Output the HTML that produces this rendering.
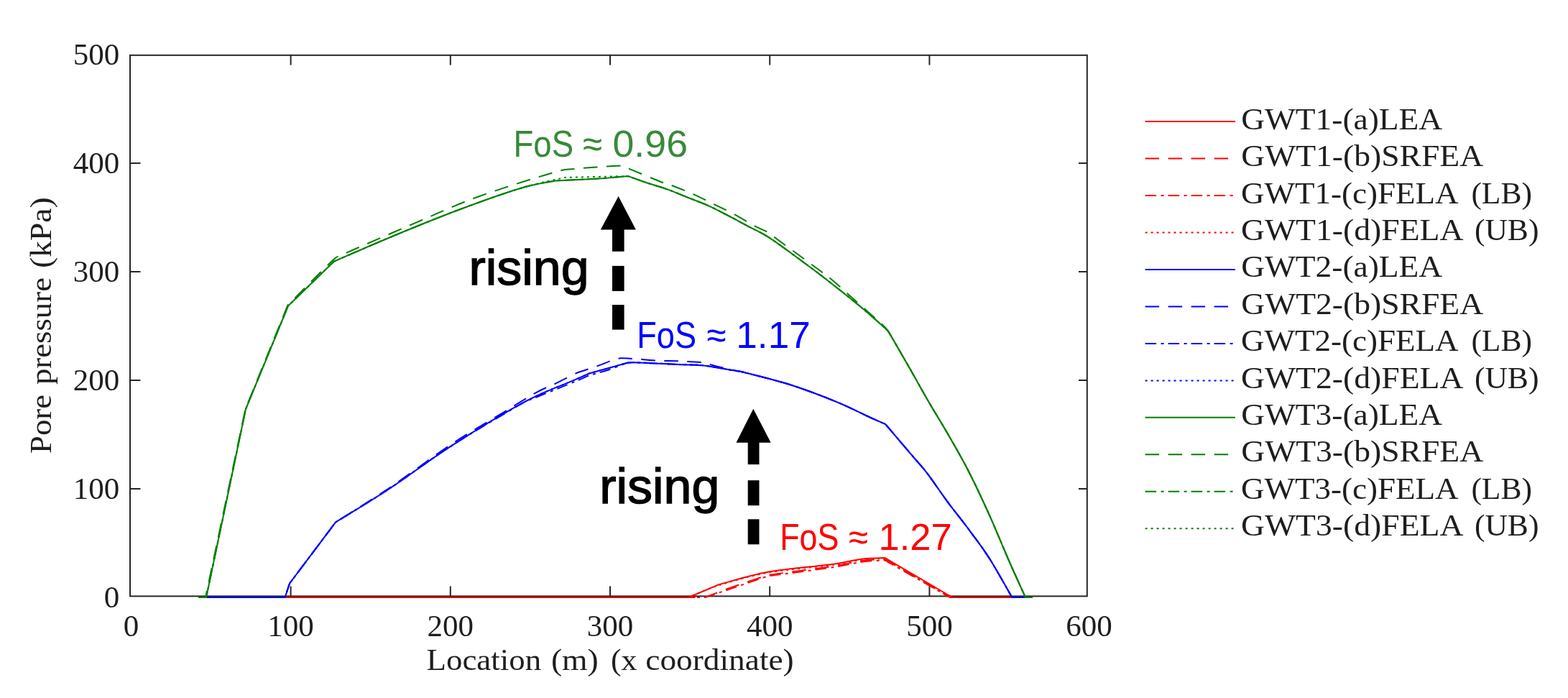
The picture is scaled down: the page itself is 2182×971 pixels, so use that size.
<!DOCTYPE html>
<html><head><meta charset="utf-8"><style>
html,body{margin:0;padding:0;background:#fff;overflow:hidden;}
svg{display:block;}
.serif{font-family:"Liberation Serif","DejaVu Serif",serif;font-size:43px;fill:#1e1e1e;}
.sans{font-family:"Liberation Sans","DejaVu Sans",sans-serif;}
</style></head><body>
<svg width="2182" height="971" viewBox="0 0 2182 971">
<rect width="2182" height="971" fill="#fff"/>
<g stroke="#262626" stroke-width="2" fill="none">
<rect x="181" y="76.8" width="1331.8" height="752.6"/>
<line x1="404.6" y1="829.4" x2="404.6" y2="815.5"/><line x1="404.6" y1="76.8" x2="404.6" y2="90.5"/><line x1="626.8" y1="829.4" x2="626.8" y2="815.5"/><line x1="626.8" y1="76.8" x2="626.8" y2="90.5"/><line x1="849.0" y1="829.4" x2="849.0" y2="815.5"/><line x1="849.0" y1="76.8" x2="849.0" y2="90.5"/><line x1="1071.2" y1="829.4" x2="1071.2" y2="815.5"/><line x1="1071.2" y1="76.8" x2="1071.2" y2="90.5"/><line x1="1293.4" y1="829.4" x2="1293.4" y2="815.5"/><line x1="1293.4" y1="76.8" x2="1293.4" y2="90.5"/><line x1="181" y1="680.0" x2="195.5" y2="680.0"/><line x1="1512.8" y1="680.0" x2="1501" y2="680.0"/><line x1="181" y1="529.0" x2="195.5" y2="529.0"/><line x1="1512.8" y1="529.0" x2="1501" y2="529.0"/><line x1="181" y1="378.0" x2="195.5" y2="378.0"/><line x1="1512.8" y1="378.0" x2="1501" y2="378.0"/><line x1="181" y1="227.0" x2="195.5" y2="227.0"/><line x1="1512.8" y1="227.0" x2="1501" y2="227.0"/>
</g>
<g><path d="M276.0,831.0 L958.3,831.0 L1000.5,813.2 C1011.8,810.3 1041.7,800.5 1068.3,795.7 C1094.9,791.0 1138.0,787.8 1160.0,784.7 C1182.0,781.7 1188.4,778.8 1200.3,777.4 C1212.2,776.0 1226.3,776.3 1231.5,776.1 L1325.0,831.0 L1437.0,831.0" fill="none" stroke="#ff0000" stroke-width="2.0" stroke-linejoin="round" /><path d="M276.0,831.0 L981.0,831.0 C986.4,829.0 998.8,823.9 1013.3,818.7 C1027.8,813.5 1059.1,803.1 1068.3,800.0 C1083.6,797.9 1138.0,790.8 1160.0,787.5 C1182.0,784.2 1188.4,781.6 1200.3,780.0 C1212.2,778.4 1226.3,778.3 1231.5,778.0 L1322.0,831.0 L1437.0,831.0" fill="none" stroke="#ff0000" stroke-width="2.0" stroke-linejoin="round" stroke-dasharray="19.5 12.5"/><path d="M276.0,831.0 L981.0,831.0 C986.4,829.2 998.8,825.1 1013.3,820.2 C1027.8,815.3 1059.1,804.6 1068.3,801.5 C1083.6,799.4 1138.0,792.3 1160.0,789.0 C1182.0,785.7 1188.4,783.1 1200.3,781.5 C1212.2,779.9 1226.3,779.8 1231.5,779.5 L1322.0,831.0 L1437.0,831.0" fill="none" stroke="#ff0000" stroke-width="2.0" stroke-linejoin="round" stroke-dasharray="15.5 6.5 4 6"/><path d="M276.0,831.0 L958.3,831.0 C965.3,828.2 982.2,819.9 1000.5,814.2 C1018.8,808.5 1041.7,801.5 1068.3,796.7 C1094.9,792.0 1138.0,788.8 1160.0,785.7 C1182.0,782.7 1188.4,779.8 1200.3,778.4 C1212.2,777.0 1226.3,777.3 1231.5,777.1 L1325.0,831.0 L1437.0,831.0" fill="none" stroke="#ff0000" stroke-width="2.0" stroke-linejoin="round" stroke-dasharray="3 5"/><path d="M276.0,831.0 L396.6,831.0 L403.1,811.5 L467.1,726.4 C479.5,718.7 514.7,697.8 541.6,680.0 C568.5,662.2 597.4,639.9 628.8,619.8 C660.2,599.6 702.0,574.1 730.0,559.1 C758.0,544.1 782.1,536.2 797.1,529.6 C812.1,523.0 816.2,521.2 820.0,519.5 C823.9,518.4 834.7,515.4 843.4,513.0 C852.1,510.6 867.2,506.3 872.0,505.0 C873.7,504.9 874.2,504.2 882.0,504.3 C889.8,504.4 907.7,505.3 918.7,505.8 C929.7,506.3 938.2,506.8 948.0,507.2 C957.8,507.6 965.3,507.0 977.3,508.3 C989.3,509.6 1009.6,513.5 1020.0,515.3 C1030.3,517.1 1025.9,515.6 1039.4,519.0 C1052.9,522.4 1080.6,529.1 1101.2,535.7 C1121.8,542.3 1144.5,551.0 1163.0,558.6 C1181.5,566.2 1200.9,576.1 1212.4,581.4 C1223.9,586.6 1228.9,588.6 1232.2,590.1 C1238.5,597.5 1260.5,623.4 1270.1,634.7 C1279.7,646.0 1281.9,647.5 1290.0,658.1 C1298.1,668.7 1309.2,685.4 1318.8,698.4 C1328.4,711.4 1338.1,723.0 1347.7,736.0 C1357.3,749.0 1366.4,760.5 1376.5,776.3 C1386.6,792.1 1403.0,821.9 1408.3,831.0 L1437.0,831.0" fill="none" stroke="#0000ff" stroke-width="2.0" stroke-linejoin="round" /><path d="M276.0,831.0 L396.6,831.0 L403.1,811.5 L467.1,726.4 C479.5,718.5 514.7,697.1 541.6,679.0 C568.5,660.9 602.4,635.0 628.8,617.5 C655.2,600.0 680.7,585.8 700.0,574.0 C719.3,562.2 732.4,553.7 744.8,546.8 C757.2,539.9 764.9,537.5 774.5,532.8 C784.1,528.1 797.8,521.1 802.5,518.8 C807.4,517.1 824.0,511.8 832.1,508.9 C840.2,506.0 845.9,503.3 851.1,501.5 C856.3,499.7 861.4,498.8 863.4,498.2 C866.4,498.3 873.2,498.4 881.6,499.0 C890.0,499.6 902.9,500.9 913.5,501.5 C924.1,502.1 934.4,501.9 945.0,502.3 C955.6,502.8 971.9,503.9 977.3,504.2 C980.2,505.0 987.9,507.2 995.0,509.0 C1002.1,510.8 1012.6,513.1 1020.0,514.8 C1027.4,516.5 1025.9,515.5 1039.4,519.0 C1052.9,522.5 1080.6,529.1 1101.2,535.7 C1121.8,542.3 1144.5,551.0 1163.0,558.6 C1181.5,566.2 1200.9,576.1 1212.4,581.4 C1223.9,586.6 1228.9,588.6 1232.2,590.1 C1238.5,597.5 1260.5,623.4 1270.1,634.7 C1279.7,646.0 1281.9,647.5 1290.0,658.1 C1298.1,668.7 1309.2,685.4 1318.8,698.4 C1328.4,711.4 1338.1,723.0 1347.7,736.0 C1357.3,749.0 1366.4,760.5 1376.5,776.3 C1386.6,792.1 1403.0,821.9 1408.3,831.0 L1437.0,831.0" fill="none" stroke="#0000ff" stroke-width="2.0" stroke-linejoin="round" stroke-dasharray="19.5 12.5"/><path d="M276.0,831.0 L396.6,831.0 L403.1,811.5 L467.1,726.4 C479.5,718.7 514.7,697.8 541.6,680.0 C568.5,662.2 597.4,639.9 628.8,619.8 C660.2,599.6 713.1,569.2 730.0,559.1 C741.2,554.6 782.1,538.3 797.1,532.1 C812.1,525.9 816.2,523.7 820.0,522.0 C823.9,520.9 834.7,518.3 843.4,515.5 C852.1,512.7 867.2,506.8 872.0,505.0 C873.7,504.9 874.2,504.2 882.0,504.3 C889.8,504.4 907.7,505.3 918.7,505.8 C929.7,506.3 938.2,506.8 948.0,507.2 C957.8,507.6 965.3,507.0 977.3,508.3 C989.3,509.6 1009.6,513.5 1020.0,515.3 C1030.3,517.1 1025.9,515.6 1039.4,519.0 C1052.9,522.4 1080.6,529.1 1101.2,535.7 C1121.8,542.3 1144.5,551.0 1163.0,558.6 C1181.5,566.2 1200.9,576.1 1212.4,581.4 C1223.9,586.6 1228.9,588.6 1232.2,590.1 C1238.5,597.5 1260.5,623.4 1270.1,634.7 C1279.7,646.0 1281.9,647.5 1290.0,658.1 C1298.1,668.7 1309.2,685.4 1318.8,698.4 C1328.4,711.4 1338.1,723.0 1347.7,736.0 C1357.3,749.0 1366.4,760.5 1376.5,776.3 C1386.6,792.1 1403.0,821.9 1408.3,831.0 L1437.0,831.0" fill="none" stroke="#0000ff" stroke-width="2.0" stroke-linejoin="round" stroke-dasharray="15.5 6.5 4 6"/><path d="M276.0,831.0 L396.6,831.0 L403.1,811.5 L467.1,726.4 C479.5,718.7 514.7,697.8 541.6,680.0 C568.5,662.2 597.4,639.9 628.8,619.8 C660.2,599.6 702.0,574.1 730.0,559.1 C758.0,544.1 782.1,536.2 797.1,529.6 C812.1,523.0 816.2,521.2 820.0,519.5 C823.9,518.4 834.7,515.4 843.4,513.0 C852.1,510.6 867.2,506.3 872.0,505.0 C873.7,504.9 874.2,504.2 882.0,504.3 C889.8,504.4 907.7,505.3 918.7,505.8 C929.7,506.3 938.2,506.8 948.0,507.2 C957.8,507.6 965.3,507.0 977.3,508.3 C989.3,509.6 1009.6,513.5 1020.0,515.3 C1030.3,517.1 1025.9,515.6 1039.4,519.0 C1052.9,522.4 1080.6,529.1 1101.2,535.7 C1121.8,542.3 1144.5,551.0 1163.0,558.6 C1181.5,566.2 1200.9,576.1 1212.4,581.4 C1223.9,586.6 1228.9,588.6 1232.2,590.1 C1238.5,597.5 1260.5,623.4 1270.1,634.7 C1279.7,646.0 1281.9,647.5 1290.0,658.1 C1298.1,668.7 1309.2,685.4 1318.8,698.4 C1328.4,711.4 1338.1,723.0 1347.7,736.0 C1357.3,749.0 1366.4,760.5 1376.5,776.3 C1386.6,792.1 1403.0,821.9 1408.3,831.0 L1437.0,831.0" fill="none" stroke="#0000ff" stroke-width="2.0" stroke-linejoin="round" stroke-dasharray="3 5"/><path d="M276.0,831.0 L287.0,831.0 L342.0,569.0 L401.0,425.5 L465.0,363.5 C478.8,357.6 519.5,339.8 548.0,328.0 C576.5,316.2 606.7,303.8 636.0,292.8 C665.3,281.8 701.2,268.9 724.0,262.0 C746.8,255.1 764.7,253.2 772.8,251.4 C783.0,250.9 819.9,249.3 833.8,248.5 C847.7,247.7 849.5,247.2 856.2,246.6 C862.9,246.0 871.2,245.3 874.2,245.0 C878.5,246.6 890.7,251.2 900.0,254.3 C909.3,257.4 920.4,260.4 930.0,263.9 C939.6,267.3 948.5,271.3 957.8,275.0 C967.1,278.7 976.3,281.9 985.6,286.1 C994.9,290.3 1004.1,295.2 1013.4,300.0 C1022.7,304.8 1031.9,309.9 1041.2,314.9 C1050.5,319.8 1057.6,322.4 1069.0,329.7 C1080.4,337.0 1095.8,348.4 1109.8,358.7 C1123.8,368.9 1138.7,380.0 1153.1,391.2 C1167.5,402.4 1183.8,415.4 1196.4,425.8 C1209.0,436.2 1222.2,448.0 1228.8,453.9 C1235.4,459.8 1235.0,460.0 1236.3,461.2 C1238.4,464.8 1244.1,474.5 1249.0,483.0 C1253.9,491.5 1258.6,499.5 1265.9,512.3 C1273.2,525.1 1284.1,544.8 1292.9,560.0 C1301.7,575.2 1309.7,587.4 1318.8,603.3 C1327.9,619.2 1338.1,636.5 1347.7,655.2 C1357.3,674.0 1367.1,695.0 1376.5,715.8 C1385.9,736.6 1395.6,760.8 1404.0,780.0 C1412.4,799.2 1423.2,822.5 1427.0,831.0 L1437.0,831.0" fill="none" stroke="#008000" stroke-width="2.0" stroke-linejoin="round" /><path d="M276.0,831.0 L286.0,831.0 L341.5,569.0 L400.5,424.5 C410.4,414.6 448.2,376.3 460.0,365.0 C471.8,353.7 469.2,358.1 471.0,356.7 C474.1,355.3 471.6,356.2 489.3,348.5 C507.0,340.8 548.0,322.9 577.3,310.4 C606.6,297.9 633.5,285.3 665.3,273.7 C697.1,262.1 745.3,247.2 767.9,240.7 C790.5,234.2 785.0,236.5 801.0,234.8 C817.0,233.1 853.2,231.1 863.7,230.4 C865.8,231.2 866.6,231.2 876.2,235.1 C885.8,239.0 911.6,249.8 921.5,253.7 C931.4,257.6 928.3,255.5 935.6,258.3 C942.9,261.1 955.5,266.1 965.2,270.4 C974.9,274.7 984.6,279.7 994.0,284.3 C1003.4,288.9 1012.5,293.2 1021.8,298.2 C1031.1,303.1 1042.0,310.0 1049.6,314.0 C1057.2,318.0 1064.3,320.9 1067.2,322.3 C1077.9,330.2 1116.5,358.4 1131.5,369.5 C1146.5,380.6 1147.7,380.9 1157.4,389.0 C1167.2,397.1 1178.1,407.4 1190.0,418.0 C1201.9,428.6 1221.1,445.3 1228.8,452.5 C1236.5,459.7 1235.0,459.8 1236.3,461.2 C1238.4,464.8 1244.1,474.5 1249.0,483.0 C1253.9,491.5 1258.6,499.5 1265.9,512.3 C1273.2,525.1 1284.1,544.8 1292.9,560.0 C1301.7,575.2 1309.7,587.4 1318.8,603.3 C1327.9,619.2 1338.1,636.5 1347.7,655.2 C1357.3,674.0 1367.1,695.0 1376.5,715.8 C1385.9,736.6 1395.6,760.8 1404.0,780.0 C1412.4,799.2 1423.2,822.5 1427.0,831.0 L1437.0,831.0" fill="none" stroke="#008000" stroke-width="2.0" stroke-linejoin="round" stroke-dasharray="19.5 12.5"/><path d="M276.0,831.0 L287.0,831.0 L342.0,569.0 L401.0,425.5 L465.0,363.5 C478.8,357.6 519.5,339.8 548.0,328.0 C576.5,316.2 606.7,303.8 636.0,292.8 C665.3,281.8 701.2,268.9 724.0,262.0 C746.8,255.1 764.7,253.2 772.8,251.4 C783.0,250.9 819.9,249.3 833.8,248.5 C847.7,247.7 849.5,247.2 856.2,246.6 C862.9,246.0 871.2,245.3 874.2,245.0 C878.5,246.6 890.7,251.2 900.0,254.3 C909.3,257.4 920.4,260.4 930.0,263.9 C939.6,267.3 948.5,271.3 957.8,275.0 C967.1,278.7 976.3,281.9 985.6,286.1 C994.9,290.3 1004.1,295.2 1013.4,300.0 C1022.7,304.8 1031.9,309.9 1041.2,314.9 C1050.5,319.8 1057.6,322.4 1069.0,329.7 C1080.4,337.0 1095.8,348.4 1109.8,358.7 C1123.8,368.9 1138.7,380.0 1153.1,391.2 C1167.5,402.4 1183.8,415.4 1196.4,425.8 C1209.0,436.2 1222.2,448.0 1228.8,453.9 C1235.4,459.8 1235.0,460.0 1236.3,461.2 C1238.4,464.8 1244.1,474.5 1249.0,483.0 C1253.9,491.5 1258.6,499.5 1265.9,512.3 C1273.2,525.1 1284.1,544.8 1292.9,560.0 C1301.7,575.2 1309.7,587.4 1318.8,603.3 C1327.9,619.2 1338.1,636.5 1347.7,655.2 C1357.3,674.0 1367.1,695.0 1376.5,715.8 C1385.9,736.6 1395.6,760.8 1404.0,780.0 C1412.4,799.2 1423.2,822.5 1427.0,831.0 L1437.0,831.0" fill="none" stroke="#008000" stroke-width="2.0" stroke-linejoin="round" stroke-dasharray="15.5 6.5 4 6"/><path d="M276.0,831.0 L287.0,831.0 L342.0,569.0 L401.0,425.5 L465.0,363.5 C478.8,357.6 519.5,339.8 548.0,328.0 C576.5,316.2 606.7,303.8 636.0,292.8 C665.3,281.8 699.0,269.6 724.0,262.0 C749.0,254.3 775.7,249.4 786.0,246.9 L874.2,245.0 C878.5,246.6 890.7,251.2 900.0,254.3 C909.3,257.4 920.4,260.4 930.0,263.9 C939.6,267.3 948.5,271.3 957.8,275.0 C967.1,278.7 976.3,281.9 985.6,286.1 C994.9,290.3 1004.1,295.2 1013.4,300.0 C1022.7,304.8 1031.9,309.9 1041.2,314.9 C1050.5,319.8 1057.6,322.4 1069.0,329.7 C1080.4,337.0 1095.8,348.4 1109.8,358.7 C1123.8,368.9 1138.7,380.0 1153.1,391.2 C1167.5,402.4 1183.8,415.4 1196.4,425.8 C1209.0,436.2 1222.2,448.0 1228.8,453.9 C1235.4,459.8 1235.0,460.0 1236.3,461.2 C1238.4,464.8 1244.1,474.5 1249.0,483.0 C1253.9,491.5 1258.6,499.5 1265.9,512.3 C1273.2,525.1 1284.1,544.8 1292.9,560.0 C1301.7,575.2 1309.7,587.4 1318.8,603.3 C1327.9,619.2 1338.1,636.5 1347.7,655.2 C1357.3,674.0 1367.1,695.0 1376.5,715.8 C1385.9,736.6 1395.6,760.8 1404.0,780.0 C1412.4,799.2 1423.2,822.5 1427.0,831.0 L1437.0,831.0" fill="none" stroke="#008000" stroke-width="2.0" stroke-linejoin="round" stroke-dasharray="3 5"/></g>
<g class="serif">
<text x="182.4" y="884.7" text-anchor="middle">0</text><text x="404.6" y="884.7" text-anchor="middle">100</text><text x="626.8" y="884.7" text-anchor="middle">200</text><text x="849.0" y="884.7" text-anchor="middle">300</text><text x="1071.2" y="884.7" text-anchor="middle">400</text><text x="1293.4" y="884.7" text-anchor="middle">500</text><text x="1515.6" y="884.7" text-anchor="middle">600</text><text x="166.2" y="845.0" text-anchor="end">0</text><text x="166.2" y="694.0" text-anchor="end">100</text><text x="166.2" y="543.0" text-anchor="end">200</text><text x="166.2" y="392.0" text-anchor="end">300</text><text x="166.2" y="241.0" text-anchor="end">400</text><text x="166.2" y="90.0" text-anchor="end">500</text>
<text x="593.5" y="932.4" textLength="159.6" lengthAdjust="spacingAndGlyphs">Location</text>
<text x="766.9" y="932.4" textLength="65.9" lengthAdjust="spacingAndGlyphs">(m)</text>
<text x="849.9" y="932.4" textLength="36.6" lengthAdjust="spacingAndGlyphs">(x</text>
<text x="898.3" y="932.4" textLength="206.4" lengthAdjust="spacingAndGlyphs">coordinate)</text>
<g transform="translate(71.2,0) rotate(-90)">
<text x="-631.0" y="0" textLength="82.1" lengthAdjust="spacingAndGlyphs">Pore</text>
<text x="-535.1" y="0" textLength="149.1" lengthAdjust="spacingAndGlyphs">pressure</text>
<text x="-372.9" y="0" textLength="98.4" lengthAdjust="spacingAndGlyphs">(kPa)</text>
</g>
<path d="M1593.6,169.0 L1718.9,169.0" fill="none" stroke="#ff0000" stroke-width="2.0" stroke-linejoin="round" /><text x="1727.2" y="179.8" textLength="280" lengthAdjust="spacingAndGlyphs">GWT1-(a)LEA</text><path d="M1593.6,220.5 L1718.9,220.5" fill="none" stroke="#ff0000" stroke-width="2.0" stroke-linejoin="round" stroke-dasharray="19.5 12.5"/><text x="1727.2" y="231.2" textLength="337" lengthAdjust="spacingAndGlyphs">GWT1-(b)SRFEA</text><path d="M1593.6,272.0 L1718.9,272.0" fill="none" stroke="#ff0000" stroke-width="2.0" stroke-linejoin="round" stroke-dasharray="15.5 6.5 4 6"/><text x="1727.0" y="282.6" textLength="302.4" lengthAdjust="spacingAndGlyphs">GWT1-(c)FELA</text><text x="2047.4" y="282.6" textLength="84.5" lengthAdjust="spacingAndGlyphs">(LB)</text><path d="M1593.6,323.4 L1718.9,323.4" fill="none" stroke="#ff0000" stroke-width="2.0" stroke-linejoin="round" stroke-dasharray="3 5"/><text x="1727.0" y="334.0" textLength="309.4" lengthAdjust="spacingAndGlyphs">GWT1-(d)FELA</text><text x="2051.9" y="334.0" textLength="89.5" lengthAdjust="spacingAndGlyphs">(UB)</text><path d="M1593.6,374.9 L1718.9,374.9" fill="none" stroke="#0000ff" stroke-width="2.0" stroke-linejoin="round" /><text x="1727.2" y="385.4" textLength="280" lengthAdjust="spacingAndGlyphs">GWT2-(a)LEA</text><path d="M1593.6,426.4 L1718.9,426.4" fill="none" stroke="#0000ff" stroke-width="2.0" stroke-linejoin="round" stroke-dasharray="19.5 12.5"/><text x="1727.2" y="436.8" textLength="337" lengthAdjust="spacingAndGlyphs">GWT2-(b)SRFEA</text><path d="M1593.6,477.9 L1718.9,477.9" fill="none" stroke="#0000ff" stroke-width="2.0" stroke-linejoin="round" stroke-dasharray="15.5 6.5 4 6"/><text x="1727.0" y="488.2" textLength="302.4" lengthAdjust="spacingAndGlyphs">GWT2-(c)FELA</text><text x="2047.4" y="488.2" textLength="84.5" lengthAdjust="spacingAndGlyphs">(LB)</text><path d="M1593.6,529.4 L1718.9,529.4" fill="none" stroke="#0000ff" stroke-width="2.0" stroke-linejoin="round" stroke-dasharray="3 5"/><text x="1727.0" y="539.6" textLength="309.4" lengthAdjust="spacingAndGlyphs">GWT2-(d)FELA</text><text x="2051.9" y="539.6" textLength="89.5" lengthAdjust="spacingAndGlyphs">(UB)</text><path d="M1593.6,580.8 L1718.9,580.8" fill="none" stroke="#008000" stroke-width="2.0" stroke-linejoin="round" /><text x="1727.2" y="591.0" textLength="280" lengthAdjust="spacingAndGlyphs">GWT3-(a)LEA</text><path d="M1593.6,632.3 L1718.9,632.3" fill="none" stroke="#008000" stroke-width="2.0" stroke-linejoin="round" stroke-dasharray="19.5 12.5"/><text x="1727.2" y="642.4" textLength="337" lengthAdjust="spacingAndGlyphs">GWT3-(b)SRFEA</text><path d="M1593.6,683.8 L1718.9,683.8" fill="none" stroke="#008000" stroke-width="2.0" stroke-linejoin="round" stroke-dasharray="15.5 6.5 4 6"/><text x="1727.0" y="693.8" textLength="302.4" lengthAdjust="spacingAndGlyphs">GWT3-(c)FELA</text><text x="2047.4" y="693.8" textLength="84.5" lengthAdjust="spacingAndGlyphs">(LB)</text><path d="M1593.6,735.3 L1718.9,735.3" fill="none" stroke="#008000" stroke-width="2.0" stroke-linejoin="round" stroke-dasharray="3 5"/><text x="1727.0" y="745.2" textLength="309.4" lengthAdjust="spacingAndGlyphs">GWT3-(d)FELA</text><text x="2051.9" y="745.2" textLength="89.5" lengthAdjust="spacingAndGlyphs">(UB)</text>
</g>
<g><polygon points="860.6,273 884.9,319.5 835.8,319.5" fill="#000"/><rect x="852" y="318.5" width="16.6" height="31.3" fill="#000"/><rect x="852" y="369.9" width="16.6" height="35.0" fill="#000"/><rect x="852" y="424" width="16.6" height="34.6" fill="#000"/><polygon points="1048.3,568.7 1072.7,615.8 1024.5,615.8" fill="#000"/><rect x="1040.7" y="614.8" width="15.8" height="31.3" fill="#000"/><rect x="1040.7" y="668.2" width="15.8" height="35.0" fill="#000"/><rect x="1040.7" y="722.3" width="15.8" height="35.0" fill="#000"/></g>
<g class="sans">
<text x="714.5" y="217.6" font-size="52" fill="#388a38" textLength="83.6" lengthAdjust="spacingAndGlyphs">FoS</text>
<text x="811.0" y="217.6" font-size="52" fill="#388a38" textLength="27.1" lengthAdjust="spacingAndGlyphs">≈</text>
<text x="852.5" y="217.6" font-size="52" fill="#388a38" textLength="104.5" lengthAdjust="spacingAndGlyphs">0.96</text>
<text x="886.3" y="483.8" font-size="52" fill="#0000ff" textLength="82.8" lengthAdjust="spacingAndGlyphs">FoS</text>
<text x="983.5" y="483.8" font-size="52" fill="#0000ff" textLength="27.1" lengthAdjust="spacingAndGlyphs">≈</text>
<text x="1024.3" y="483.8" font-size="52" fill="#0000ff" textLength="103.5" lengthAdjust="spacingAndGlyphs">1.17</text>
<text x="1085.2" y="764.5" font-size="52" fill="#ff0000" textLength="82.2" lengthAdjust="spacingAndGlyphs">FoS</text>
<text x="1181.0" y="764.5" font-size="52" fill="#ff0000" textLength="27.1" lengthAdjust="spacingAndGlyphs">≈</text>
<text x="1222.5" y="764.5" font-size="52" fill="#ff0000" textLength="102.2" lengthAdjust="spacingAndGlyphs">1.27</text>
<text x="652.4" y="395.8" font-size="69" fill="#000" stroke="#000" stroke-width="1.4" textLength="167.2" lengthAdjust="spacingAndGlyphs">rising</text>
<text x="834.2" y="700.2" font-size="69" fill="#000" stroke="#000" stroke-width="1.4" textLength="167.2" lengthAdjust="spacingAndGlyphs">rising</text>
</g>
</svg>
</body></html>
